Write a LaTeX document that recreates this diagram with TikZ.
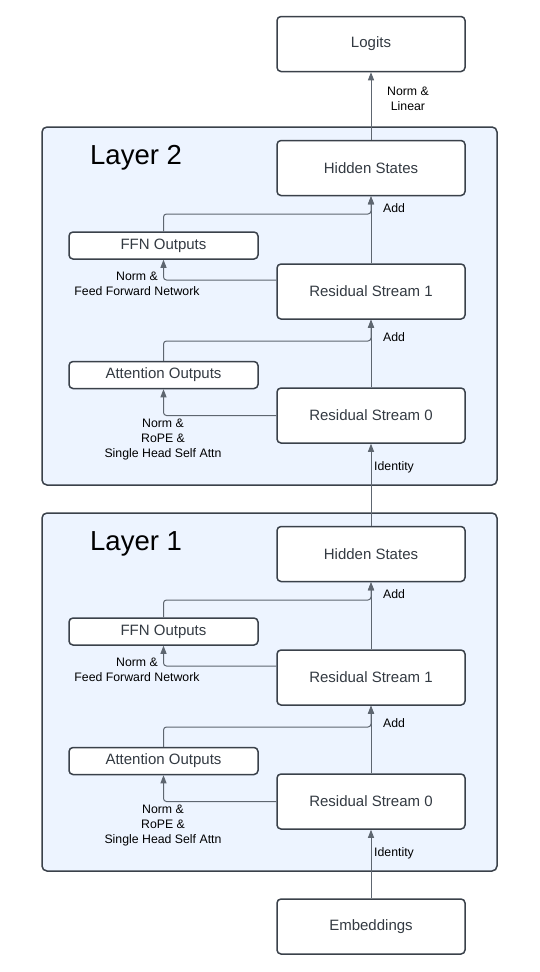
\documentclass[tikz,border=0pt]{standalone}
\usepackage{fontspec}
\setmainfont{Liberation Sans}
\usetikzlibrary{arrows.meta}
\definecolor{boxline}{HTML}{3A414A}
\definecolor{arrowc}{HTML}{5E6670}
\definecolor{layerfill}{HTML}{EDF4FF}
\definecolor{boxtext}{HTML}{333A42}
\tikzset{
  blk/.style={draw=boxline, line width=1.5pt, fill=white, rounded corners=4pt,
    minimum width=188pt, minimum height=55pt, text=boxtext,
    font=\fontsize{15}{18}\selectfont, inner sep=0pt},
  sblk/.style={blk, minimum width=189pt, minimum height=27pt},
  layerbox/.style={draw=boxline, line width=1.5pt, fill=layerfill, rounded corners=5pt},
  conn/.style={draw=arrowc, line width=1pt, -{Triangle[length=8pt,width=6pt]}, rounded corners=3pt},
  lbl/.style={font=\fontsize{12.3}{15}\selectfont, align=center, inner sep=0pt},
  ttl/.style={font=\fontsize{27.5}{33}\selectfont, anchor=west, inner sep=0pt}
}
\newcommand\mylayer[2]{%
\begin{scope}[yshift=-#2pt]
 \node[layerbox, minimum width=455pt, minimum height=358pt] (L#1) at (269.5,306) {};
 \node[ttl] (T#1) at (90,158) {Layer #1};
 \node[blk] (hs#1) at (371,168) {Hidden States};
 \node[blk] (rsa#1) at (371,291.5) {Residual Stream 1};
 \node[blk] (rsb#1) at (371,415.5) {Residual Stream 0};
 \node[sblk] (ffn#1) at (163.5,245.5) {FFN Outputs};
 \node[sblk] (att#1) at (163.5,375) {Attention Outputs};
 \coordinate (fa#1) at (371,214);
 \coordinate (aa#1) at (371,341);
 \draw[conn] (rsa#1.north) -- (hs#1.south);
 \draw[conn] (rsb#1.north) -- (rsa#1.south);
 \draw[conn] ([yshift=11.5pt]rsa#1.west) -| (ffn#1.south);
 \draw[conn] (ffn#1.north) |- (fa#1) -- (hs#1.south);
 \draw[conn] (rsb#1.west) -| (att#1.south);
 \draw[conn] (att#1.north) |- (aa#1) -- (rsa#1.south);
 \node[lbl, anchor=west] (adda#1) at (383,208) {Add};
 \node[lbl, anchor=west] (addb#1) at (383,337) {Add};
 \node[lbl, anchor=west] (id#1) at (374,467) {Identity};
 \node[lbl] (nf#1) at (137,284) {Norm \&\\Feed Forward Network};
 \node[lbl] (na#1) at (163,440) {Norm \&\\RoPE \&\\Single Head Self Attn};
\end{scope}}
\begin{document}
\begin{tikzpicture}[x=1pt,y=-1pt]
\useasboundingbox (0,0) rectangle (540,972);
\fill[white] (0,0) rectangle (540,972);
\mylayer{2}{0}
\mylayer{1}{386}
\node[blk] (logits) at (371,44) {Logits};
\node[blk] (emb) at (371,926.5) {Embeddings};
\draw[conn] (hs2.north) -- (logits.south);
\draw[conn] (hs1.north) -- (rsb2.south);
\draw[conn] (emb.north) -- (rsb1.south);
\node[lbl] (nl) at (408,98.5) {Norm \&\\Linear};
\end{tikzpicture}
\end{document}
